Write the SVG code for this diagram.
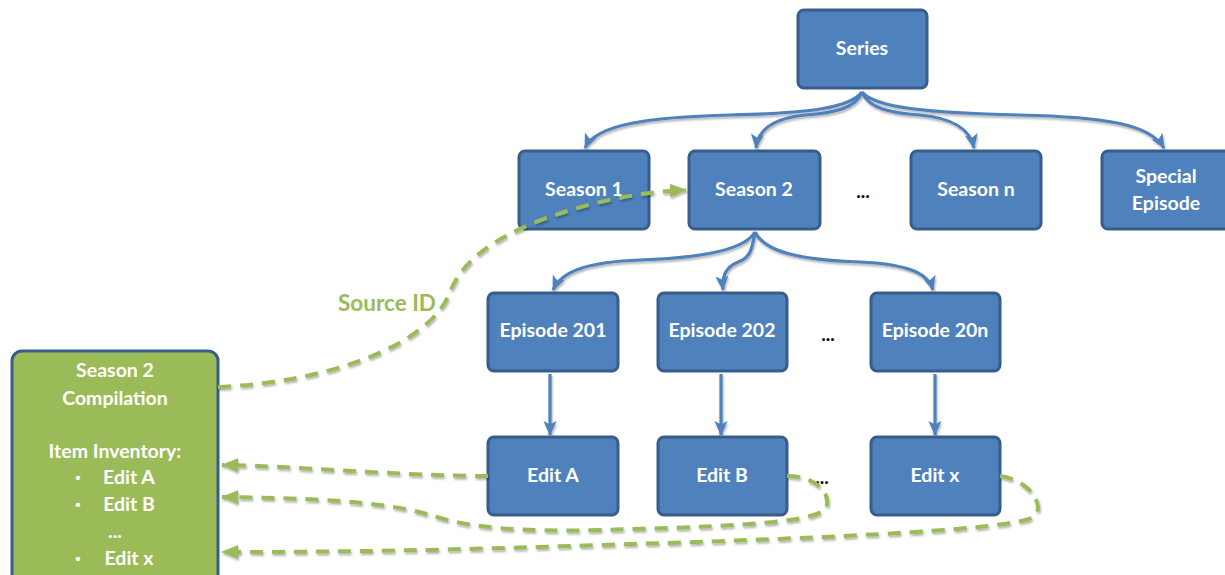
<svg xmlns="http://www.w3.org/2000/svg" width="1225" height="575" viewBox="0 0 1225 575">
  <defs>
    <style>
      .box { fill: #4f81bd; stroke: #385d8a; stroke-width: 3; }
      .comp { fill: #9bbb59; stroke: #385d8a; stroke-width: 3; }
      .lbl { font-family: Lato, "Liberation Sans", sans-serif; font-weight: bold; font-size: 19.5px; fill: #ffffff; text-anchor: middle; }
      .bullet { font-family: "Liberation Sans", sans-serif; font-weight: bold; font-size: 15px; fill: #ffffff; text-anchor: middle; }
      .dots { font-family: Lato, "Liberation Sans", sans-serif; font-weight: bold; font-size: 19px; fill: #000000; text-anchor: middle; }
      .tree { fill: none; stroke: #4f81bd; stroke-width: 3.2; marker-end: url(#blueArrow); }
      .ref { fill: none; stroke: #9bbb59; stroke-width: 4; stroke-dasharray: 13 9; marker-end: url(#greenArrow); }
      .src { font-family: Lato, "Liberation Sans", sans-serif; font-weight: bold; font-size: 22.5px; fill: #9bbb59; text-anchor: middle; }
    </style>
    <marker id="blueArrow" markerUnits="userSpaceOnUse" markerWidth="16" markerHeight="16" viewBox="0 0 16 16" refX="14" refY="8" orient="auto">
      <path d="M0,1.5 L15,8 L0,14.5 L3.5,8 Z" fill="#4f81bd"/>
    </marker>
    <marker id="greenArrow" markerUnits="userSpaceOnUse" markerWidth="18" markerHeight="16" viewBox="0 0 18 16" refX="16" refY="8" orient="auto">
      <path d="M0,1 L17,8 L0,15 Z" fill="#9bbb59"/>
    </marker>
    <filter id="shadow" x="-10%" y="-10%" width="120%" height="130%">
      <feDropShadow dx="1" dy="2" stdDeviation="1.2" flood-color="#000000" flood-opacity="0.3"/>
    </filter>
  </defs>

  <!-- hierarchy connectors -->
  <g id="connectors" filter="url(#shadow)">
    <path class="tree" d="M862,92 C850,108 810,113 730,115 C650,117 596,124 585,148"/>
    <path class="tree" d="M862,92 C856,108 835,113 805,115 C775,118 758,128 756,148"/>
    <path class="tree" d="M862,92 C868,108 890,113 920,115 C952,118 970,128 974,148"/>
    <path class="tree" d="M862,92 C875,108 930,113 1020,115 C1105,117 1150,124 1164,148"/>

    <path class="tree" d="M755,232 C745,250 700,258 640,260 C590,262 562,270 553,290"/>
    <path class="tree" d="M755,232 C752,250 750,258 738,262 C724,268 722,278 723,290"/>
    <path class="tree" d="M755,232 C765,252 800,260 860,262 C905,264 928,272 933,290"/>

    <path class="tree" d="M550,374 L550,435"/>
    <path class="tree" d="M721,374 L721,435"/>
    <path class="tree" d="M935,374 L935,435"/>
  </g>

  <g id="series">
    <rect class="box" x="798" y="10" width="129" height="78" rx="6"/>
    <text class="lbl" x="862" y="55">Series</text>
  </g>

  <g id="season1">
    <rect class="box" x="519" y="151" width="130" height="78" rx="6"/>
    <text class="lbl" x="584" y="196">Season 1</text>
  </g>
  <g id="season2">
    <rect class="box" x="689" y="151" width="131" height="78" rx="6"/>
    <text class="lbl" x="754" y="196">Season 2</text>
  </g>
  <text class="dots" x="863" y="198">...</text>
  <g id="seasonN">
    <rect class="box" x="911" y="151" width="130" height="78" rx="6"/>
    <text class="lbl" x="976" y="196">Season n</text>
  </g>
  <g id="special">
    <rect class="box" x="1102" y="151" width="130" height="78" rx="6"/>
    <text class="lbl" x="1166" y="183">Special</text>
    <text class="lbl" x="1166" y="210">Episode</text>
  </g>

  <g id="ep201">
    <rect class="box" x="488" y="293" width="130" height="78" rx="6"/>
    <text class="lbl" x="553" y="337">Episode 201</text>
  </g>
  <g id="ep202">
    <rect class="box" x="658" y="293" width="129" height="78" rx="6"/>
    <text class="lbl" x="722" y="337">Episode 202</text>
  </g>
  <text class="dots" x="828" y="341">...</text>
  <g id="ep20n">
    <rect class="box" x="871" y="293" width="129" height="78" rx="6"/>
    <text class="lbl" x="935" y="337">Episode 20n</text>
  </g>

  <g id="editA">
    <rect class="box" x="488" y="437" width="130" height="78" rx="6"/>
    <text class="lbl" x="553" y="482">Edit A</text>
  </g>
  <g id="editB">
    <rect class="box" x="658" y="437" width="129" height="78" rx="6"/>
    <text class="lbl" x="722" y="482">Edit B</text>
  </g>
  <text class="dots" x="822" y="484">...</text>
  <g id="editX">
    <rect class="box" x="871" y="437" width="129" height="78" rx="6"/>
    <text class="lbl" x="935" y="482">Edit x</text>
  </g>

  <g id="compilation">
    <rect class="comp" x="12" y="351" width="206" height="240" rx="10"/>
    <text class="lbl" x="115" y="377">Season 2</text>
    <text class="lbl" x="115" y="405">Compilation</text>
    <text class="lbl" x="115" y="458">Item Inventory:</text>
    <text class="bullet" x="78" y="483">•</text>
    <text class="lbl" x="129" y="484">Edit A</text>
    <text class="bullet" x="78" y="510">•</text>
    <text class="lbl" x="129" y="511">Edit B</text>
    <text class="lbl" x="115" y="538">...</text>
    <text class="bullet" x="78" y="564">•</text>
    <text class="lbl" x="129" y="565">Edit x</text>
  </g>

  <!-- compilation references, drawn over the boxes -->
  <g id="references" filter="url(#shadow)">
    <path class="ref" d="M218,387 C330,382 430,345 450,292 C466,250 520,222 600,202 C630,195 660,191 686,190"/>
    <path class="ref" d="M488,476 C400,476 300,466 222,465"/>
    <path class="ref" d="M787,476 C815,476 832,493 826,508 C816,525 700,527 600,530 C520,532 470,528 430,515 C380,500 300,498 222,497"/>
    <path class="ref" d="M1000,476 C1030,480 1048,508 1032,518 C1000,531 800,539 600,545 C450,550 350,552 222,552"/>
  </g>
  <text class="src" x="387" y="311">Source ID</text>
</svg>
